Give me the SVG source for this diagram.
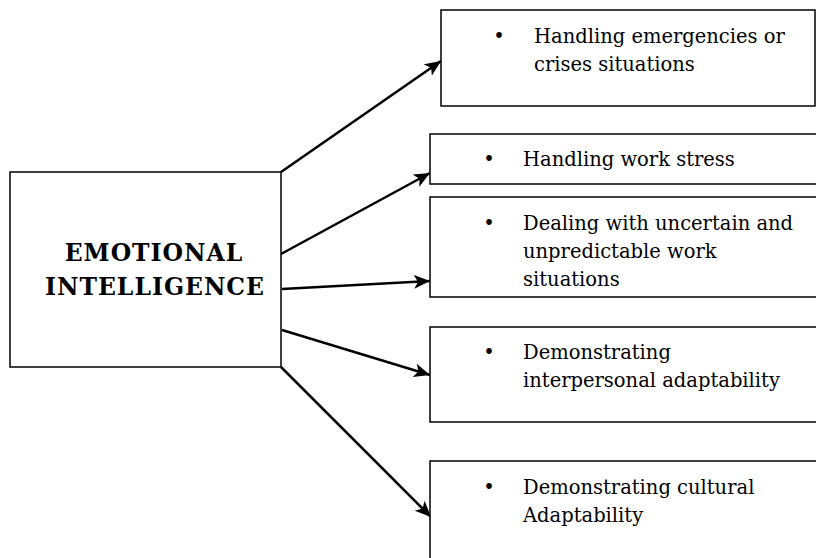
<svg xmlns="http://www.w3.org/2000/svg" width="816" height="558" viewBox="0 0 816 558">
<defs>
<style>
.box{fill:#fff;stroke:#000;stroke-width:1.5}
.t{font-family:"DejaVu Serif","Liberation Serif",serif;font-size:19.5px;fill:#000}
.h{font-family:"DejaVu Serif","Liberation Serif",serif;font-size:23.5px;font-weight:bold;fill:#000;letter-spacing:1px}
.c{stroke:#000;stroke-width:2.5;fill:none;marker-end:url(#ah)}
</style>
<marker id="ah" markerUnits="userSpaceOnUse" markerWidth="18" markerHeight="16" refX="16" refY="7" orient="auto">
<path d="M0,0 L16,7 L0,14 L4,7 Z" fill="#000"/>
</marker>
</defs>
<rect width="816" height="558" fill="#fff"/>
<g id="connectors">
<line class="c" x1="281" y1="172" x2="441" y2="61"/>
<line class="c" x1="281" y1="254" x2="430" y2="173"/>
<line class="c" x1="282" y1="289" x2="430" y2="281"/>
<line class="c" x1="282" y1="330" x2="430" y2="375"/>
<line class="c" x1="281" y1="367" x2="431" y2="517"/>
</g>
<g id="ei">
<rect class="box" x="10" y="172" width="271" height="195"/>
<text class="h" x="154" y="261" text-anchor="middle">EMOTIONAL</text>
<text class="h" x="155" y="295" text-anchor="middle">INTELLIGENCE</text>
</g>
<g id="n1">
<rect class="box" x="441" y="10" width="374" height="96"/>
<text class="t" x="499" y="43" text-anchor="middle">•</text>
<text class="t" x="534" y="43">Handling emergencies or</text>
<text class="t" x="534" y="71">crises situations</text>
</g>
<g id="n2">
<rect class="box" x="430" y="134" width="400" height="50"/>
<text class="t" x="489" y="166" text-anchor="middle">•</text>
<text class="t" x="523" y="166">Handling work stress</text>
</g>
<g id="n3">
<rect class="box" x="430" y="197" width="400" height="100"/>
<text class="t" x="489" y="230" text-anchor="middle">•</text>
<text class="t" x="523" y="230">Dealing with uncertain and</text>
<text class="t" x="523" y="258">unpredictable work</text>
<text class="t" x="523" y="286">situations</text>
</g>
<g id="n4">
<rect class="box" x="430" y="327" width="400" height="95"/>
<text class="t" x="489" y="359" text-anchor="middle">•</text>
<text class="t" x="523" y="359">Demonstrating</text>
<text class="t" x="523" y="387">interpersonal adaptability</text>
</g>
<g id="n5">
<rect class="box" x="430" y="461" width="400" height="120"/>
<text class="t" x="489" y="494" text-anchor="middle">•</text>
<text class="t" x="523" y="494">Demonstrating cultural</text>
<text class="t" x="523" y="522">Adaptability</text>
</g>
</svg>
